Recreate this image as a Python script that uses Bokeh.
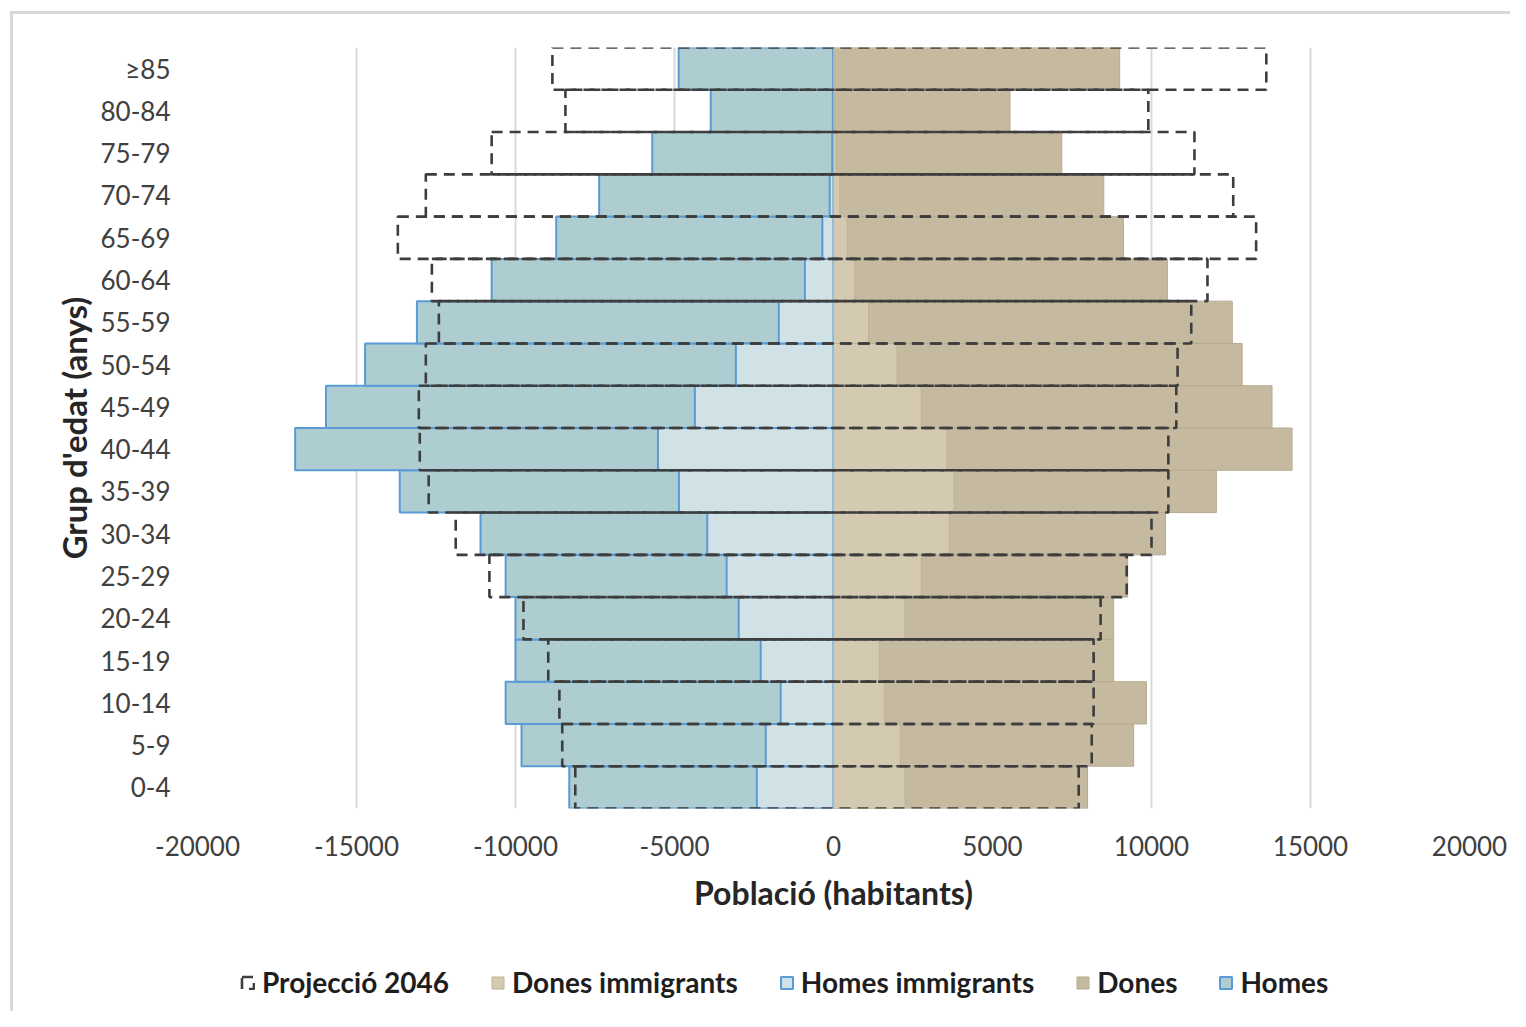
from bokeh.plotting import figure
from bokeh.layouts import column
from bokeh.models import (FixedTicker, Legend, LegendItem, ColumnDataSource,
                          FactorRange, Range1d)
from bokeh.embed import file_html
from bokeh.resources import INLINE

# ---------------- data ----------------
ages = ["0-4", "5-9", "10-14", "15-19", "20-24", "25-29", "30-34", "35-39",
        "40-44", "45-49", "50-54", "55-59", "60-64", "65-69", "70-74",
        "75-79", "80-84", "≥85"]

homes = [8310, 9810, 10310, 10000, 10000, 10310, 11100, 13640, 16930, 15960,
         14730, 13100, 10750, 8720, 7370, 5700, 3860, 4870]
homes_immigrants = [2410, 2130, 1660, 2290, 2980, 3360, 3970, 4860, 5520, 4360,
                    3070, 1720, 900, 350, 120, 40, 20, 10]
dones = [7990, 9440, 9840, 8810, 8810, 9250, 10440, 12040, 14420, 13790,
         12850, 12540, 10500, 9120, 8500, 7180, 5550, 9000]
dones_immigrants = [2250, 2100, 1600, 1440, 2250, 2760, 3640, 3790, 3570, 2760,
                    2000, 1100, 670, 430, 200, 80, 30, 20]
proj_homes_2046 = [8120, 8530, 8620, 8970, 9750, 10820, 11880, 12730, 13010,
                   13040, 12820, 12410, 12630, 13700, 12820, 10750, 8430, 8840]
proj_dones_2046 = [7710, 8120, 8180, 8180, 8400, 9220, 10000, 10530, 10530,
                   10780, 10820, 11250, 11760, 13290, 12570, 11350, 9900, 13610]

x_ticks = [-20000, -15000, -10000, -5000, 0, 5000, 10000, 15000, 20000]
x_tick_labels = ["-20000", "-15000", "-10000", "-5000", "0", "5000", "10000",
                 "15000", "20000"]

legend_labels = ["Projecció 2046", "Dones immigrants", "Homes immigrants",
                 "Dones", "Homes"]

# ---------------- styles ----------------
FONT = "Lato"
STY = {
    "homes": dict(fill_color="#AECDD0", line_color="#5B9BD5", line_width=2),
    "himm": dict(fill_color="#D0E2E6", line_color="#5B9BD5", line_width=2),
    "dones": dict(fill_color="#C5BAA0", line_color="#B6AB90", line_width=1),
    "dimm": dict(fill_color="#D4CAB2", line_color="#BDB298", line_width=1),
    "proj": dict(fill_color=None, line_color="#3d3d3d", line_width=2.6,
                 line_dash="11 7"),
}

src = ColumnDataSource(dict(
    age=ages,
    homes_left=[-v for v in homes],
    himm_left=[-v for v in homes_immigrants],
    dones=dones,
    dimm=dones_immigrants,
    proj_left=[-v for v in proj_homes_2046],
    proj_right=proj_dones_2046,
))

W = 1510
H_MAIN = 945
H_LEG = 66

p = figure(width=W, height=H_MAIN,
           y_range=FactorRange(factors=ages, range_padding=0),
           x_range=Range1d(-20000, 20000),
           output_backend="svg", toolbar_location=None,
           min_border_left=197, min_border_right=41,
           min_border_top=47, min_border_bottom=H_MAIN - 808)

p.border_fill_color = None
p.background_fill_color = "white"
p.outline_line_color = None
p.styles = {"background-color": "white",
            "box-shadow": "inset 10px 11px 0 0 #ffffff, inset 13px 14px 0 0 #d9d9d9"}

p.hbar(y="age", left="homes_left", right=0, height=1.0, source=src, **STY["homes"])
p.hbar(y="age", left="himm_left", right=0, height=1.0, source=src, **STY["himm"])
p.hbar(y="age", left=0, right="dones", height=1.0, source=src, **STY["dones"])
p.hbar(y="age", left=0, right="dimm", height=1.0, source=src, **STY["dimm"])
p.hbar(y="age", left="proj_left", right="proj_right", height=1.0,
       source=src, **STY["proj"])

p.xaxis.ticker = FixedTicker(ticks=x_ticks)
p.xaxis.major_label_overrides = dict(zip(x_ticks, x_tick_labels))
p.xaxis.axis_line_color = None
p.xaxis.major_tick_line_color = None
p.xaxis.minor_tick_line_color = None
p.xaxis.major_tick_out = 0
p.xaxis.major_tick_in = 0
p.xaxis.major_label_standoff = 27
p.xaxis.major_label_text_font = FONT
p.xaxis.major_label_text_font_size = "26px"
p.xaxis.major_label_text_color = "#404040"
p.xaxis.axis_label = "Població (habitants)"
p.xaxis.axis_label_text_font = FONT
p.xaxis.axis_label_text_font_style = "bold"
p.xaxis.axis_label_text_font_size = "32px"
p.xaxis.axis_label_text_color = "#262626"
p.xaxis.axis_label_standoff = 14

p.yaxis.axis_line_color = None
p.yaxis.major_tick_line_color = None
p.yaxis.minor_tick_line_color = None
p.yaxis.major_tick_out = 0
p.yaxis.major_tick_in = 0
p.yaxis.major_label_standoff = 27
p.yaxis.major_label_text_font = FONT
p.yaxis.major_label_text_font_size = "26px"
p.yaxis.major_label_text_color = "#404040"
p.yaxis.axis_label = "Grup d'edat (anys)"
p.yaxis.axis_label_text_font = FONT
p.yaxis.axis_label_text_font_style = "bold"
p.yaxis.axis_label_text_font_size = "33px"
p.yaxis.axis_label_text_color = "#262626"
p.yaxis.axis_label_standoff = 4

p.xgrid.grid_line_color = "#d9d9d9"
p.xgrid.grid_line_width = 2
p.ygrid.grid_line_color = None

# ---------------- legend strip ----------------
q = figure(width=W, height=H_LEG, x_range=Range1d(0, 1), y_range=Range1d(0, 1),
           output_backend="svg", toolbar_location=None,
           min_border_left=0, min_border_right=0, min_border_top=0,
           min_border_bottom=0)
q.axis.visible = False
q.grid.visible = False
q.outline_line_color = None
q.border_fill_color = None
q.background_fill_color = None
q.styles = {"background-color": "white",
            "box-shadow": "inset 10px 0 0 0 #ffffff, inset 13px 0 0 0 #d9d9d9"}

# legend keys only: a single non-drawable (NaN) row, so only the swatches show
key_src = ColumnDataSource(dict(y=[float("nan")], left=[float("nan")],
                                right=[float("nan")]))
keys = ["proj", "dimm", "himm", "dones", "homes"]
items = []
for lab, k in zip(legend_labels, keys):
    rr = q.hbar(y="y", left="left", right="right", height=1, source=key_src,
                **STY[k])
    items.append(LegendItem(label=lab, renderers=[rr]))

legend = Legend(items=items, orientation="horizontal", location=(43, 12))
legend.glyph_width = 15
legend.glyph_height = 15
legend.label_standoff = 7
legend.spacing = 41
legend.padding = 0
legend.margin = 0
legend.label_text_font = FONT
legend.label_text_font_style = "bold"
legend.label_text_font_size = "28px"
legend.label_text_color = "#1e1e1e"
legend.background_fill_alpha = 0
legend.border_line_color = None
q.add_layout(legend)

layout = column(p, q, spacing=0)
open("out.html", "w").write(file_html(layout, INLINE))
